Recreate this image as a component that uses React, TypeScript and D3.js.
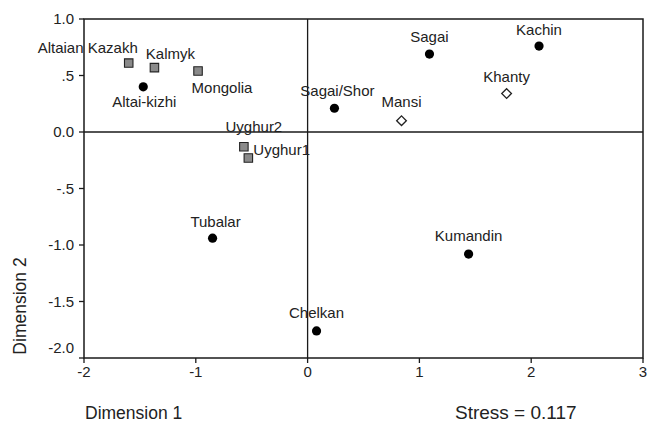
import React from "react";
import * as d3 from "d3";

const populations = ["Altaian Kazakh", "Kalmyk", "Mongolia", "Altai-kizhi", "Uyghur2", "Uyghur1", "Sagai/Shor", "Mansi", "Sagai", "Kachin", "Khanty", "Tubalar", "Kumandin", "Chelkan"];
const dimension1 = [-1.6, -1.37, -0.98, -1.47, -0.57, -0.53, 0.24, 0.84, 1.09, 2.07, 1.78, -0.85, 1.44, 0.08];
const dimension2 = [0.61, 0.57, 0.54, 0.4, -0.13, -0.23, 0.21, 0.1, 0.69, 0.76, 0.34, -0.94, -1.08, -1.76];
const groups = ["square", "square", "square", "circle", "square", "square", "circle", "diamond", "circle", "circle", "diamond", "circle", "circle", "circle"];

const xTicks = [-2, -1, 0, 1, 2, 3];
const xTickLabels = ["-2", "-1", "0", "1", "2", "3"];
const yTicks = [1, 0.5, 0, -0.5, -1, -1.5, -2];
const yTickLabels = ["1.0", ".5", "0.0", "-.5", "-1.0", "-1.5", "-2.0"];

const labelPlacement: Record<string, { dx: number; dy: number; anchor: string }> = {
  "Altaian Kazakh": { dx: -41, dy: -10, anchor: "middle" },
  Kalmyk: { dx: 16, dy: -9, anchor: "middle" },
  Mongolia: { dx: 24, dy: 22, anchor: "middle" },
  "Altai-kizhi": { dx: 1, dy: 20, anchor: "middle" },
  Uyghur2: { dx: 10, dy: -15, anchor: "middle" },
  Uyghur1: { dx: 5, dy: -3, anchor: "start" },
  "Sagai/Shor": { dx: 3, dy: -12, anchor: "middle" },
  Mansi: { dx: 0, dy: -14, anchor: "middle" },
  Sagai: { dx: 0, dy: -12, anchor: "middle" },
  Kachin: { dx: 0, dy: -11, anchor: "middle" },
  Khanty: { dx: 0, dy: -12, anchor: "middle" },
  Tubalar: { dx: 3, dy: -11, anchor: "middle" },
  Kumandin: { dx: 0, dy: -13, anchor: "middle" },
  Chelkan: { dx: 0, dy: -13, anchor: "middle" },
};

const FONT = "'Liberation Sans', Arial, Helvetica, sans-serif";

export default function App() {
  const width = 648;
  const height = 430;
  const left = 84, right = 643, top = 19, bottom = 358;
  const x = d3.scaleLinear().domain([-2, 3]).range([left, right]);
  const y = d3.scaleLinear().domain([-2, 1]).range([bottom, top]);

  const diamond = d3.symbol().type(d3.symbolDiamond2).size(60)();
  const square = d3.symbol().type(d3.symbolSquare).size(72)();

  return (
    <svg width={width} height={height} style={{ position: "fixed", left: 0, top: 0, background: "#fff" }} fontFamily={FONT}>
      <rect x={0} y={0} width={width} height={height} fill="#fff" />
      <rect x={left} y={top} width={right - left} height={bottom - top} fill="none" stroke="#1a1a1a" strokeWidth={1.5} />
      <line x1={x(0)} x2={x(0)} y1={top} y2={bottom} stroke="#1a1a1a" strokeWidth={1.3} />
      <line x1={left} x2={right} y1={y(0)} y2={y(0)} stroke="#1a1a1a" strokeWidth={1.3} />
      {yTicks.map((t, i) => (
        <g key={"y" + i}>
          <line x1={left - 5} x2={left} y1={y(t)} y2={y(t)} stroke="#1a1a1a" strokeWidth={1.3} />
          <text x={left - 10} y={y(t) + (t === -2 ? -10 : 0)} dy="0.35em" textAnchor="end" fontSize={15} fill="#222">
            {yTickLabels[i]}
          </text>
        </g>
      ))}
      {xTicks.map((t, i) => (
        <g key={"x" + i}>
          <line x1={x(t)} x2={x(t)} y1={bottom} y2={bottom + 5} stroke="#1a1a1a" strokeWidth={1.3} />
          <text x={x(t)} y={bottom + 19} textAnchor="middle" fontSize={15} fill="#222">
            {xTickLabels[i]}
          </text>
        </g>
      ))}
      {populations.map((p, i) => {
        const cx = x(dimension1[i]);
        const cy = y(dimension2[i]);
        const g = groups[i];
        return (
          <g key={p}>
            {g === "circle" && <circle cx={cx} cy={cy} r={4.6} fill="#000" />}
            {g === "square" && (
              <path d={square as string} transform={`translate(${cx},${cy})`} fill="#8a8a8a" stroke="#222" strokeWidth={1.1} />
            )}
            {g === "diamond" && (
              <path d={diamond as string} transform={`translate(${cx},${cy})`} fill="#fff" stroke="#222" strokeWidth={1.3} />
            )}
          </g>
        );
      })}
      {populations.map((p, i) => {
        const cx = x(dimension1[i]);
        const cy = y(dimension2[i]);
        const lp = labelPlacement[p];
        return (
          <text key={"l" + p} x={cx + lp.dx} y={cy + lp.dy} textAnchor={lp.anchor as any} fontSize={15} fill="#222">
            {p}
          </text>
        );
      })}
      <text x={85} y={419} fontSize={17.5} fill="#222">Dimension 1</text>
      <text x={455} y={419} fontSize={19} fill="#222">Stress = 0.117</text>
      <text transform={`translate(26,306) rotate(-90)`} textAnchor="middle" fontSize={17.5} fill="#222">
        Dimension 2
      </text>
    </svg>
  );
}
